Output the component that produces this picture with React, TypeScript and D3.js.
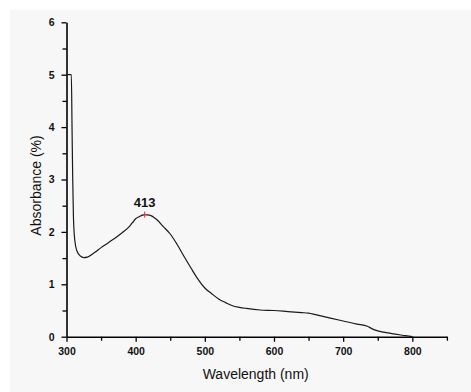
import { useEffect, useRef } from 'react';
import * as d3 from 'd3';

// wavelength (nm) and absorbance (%)
const wavelength = [
  300, 307, 308, 309, 310, 312, 315, 320, 325, 330, 340, 350, 360, 370, 380, 390, 395, 400, 405,
  413, 420, 430, 440, 450, 460, 470, 480, 490, 500, 510, 520, 530, 540, 550, 560, 580, 600,
  620, 640, 650, 660, 680, 700, 720, 735, 742, 750, 770, 790, 800,
];
const absorbance = [
  5, 5, 4.0, 3.0, 2.3, 1.84, 1.64, 1.54, 1.51, 1.52, 1.6, 1.7, 1.79, 1.88, 1.98, 2.09, 2.17, 2.25, 2.29,
  2.33, 2.32, 2.24, 2.1, 1.96, 1.76, 1.53, 1.31, 1.1, 0.93, 0.82, 0.72, 0.65, 0.59, 0.56, 0.54, 0.51, 0.5,
  0.48, 0.46, 0.45, 0.42, 0.36, 0.3, 0.24, 0.2, 0.15, 0.11, 0.06, 0.02, 0,
];
const xTicks = [300, 400, 500, 600, 700, 800];
const yTicks = [0, 1, 2, 3, 4, 5, 6];
const peak = { wl: 413, value: 2.33, label: '413' };

const W = 471;
const H = 392;

const App = () => {
  const svgRef = useRef<SVGSVGElement>(null);

  useEffect(() => {
    const root = d3.select(svgRef.current);
    root.selectAll('*').remove();

    const margin = { left: 66.5, top: 22.3, right: 24.1, bottom: 55.3 };
    const innerW = W - margin.left - margin.right;
    const innerH = H - margin.top - margin.bottom;

    // gray panel
    root.append('rect')
      .attr('x', 10).attr('y', 10)
      .attr('width', W - 10).attr('height', H - 10)
      .attr('fill', '#f7f7f7');

    const x = d3.scaleLinear().domain([300, 850]).range([0, innerW]);
    const y = d3.scaleLinear().domain([0, 6]).range([innerH, 0]);

    const g = root.append('g')
      .attr('transform', `translate(${margin.left},${margin.top})`)
      .style('font-family', 'Arial, "Liberation Sans", sans-serif');

    // minor ticks
    g.append('g')
      .attr('transform', `translate(0,${innerH})`)
      .call(d3.axisBottom(x).tickValues(d3.range(350, 851, 100)).tickSize(4).tickFormat(() => ''))
      .call((a) => a.select('.domain').remove())
      .selectAll('line').attr('stroke', '#000').attr('stroke-width', 1.3);
    g.append('g')
      .call(d3.axisLeft(y).tickValues(d3.range(0.5, 6, 1)).tickSize(4).tickFormat(() => ''))
      .call((a) => a.select('.domain').remove())
      .selectAll('line').attr('stroke', '#000').attr('stroke-width', 1.3);

    // major axes
    const xAxis = g.append('g')
      .attr('transform', `translate(0,${innerH})`)
      .call(d3.axisBottom(x).tickValues(xTicks).tickSize(5).tickSizeOuter(0).tickPadding(6).tickFormat(d3.format('d')));
    const yAxis = g.append('g')
      .call(d3.axisLeft(y).tickValues(yTicks).tickSize(5).tickSizeOuter(0).tickPadding(7).tickFormat(d3.format('d')));

    [xAxis, yAxis].forEach((a) => {
      a.select('.domain').attr('stroke', '#000').attr('stroke-width', 1.6);
      a.selectAll('line').attr('stroke', '#000').attr('stroke-width', 1.3);
      a.selectAll('text')
        .attr('fill', '#111')
        .style('font-size', '10.5px')
        .style('font-weight', 'bold')
        .style('font-family', 'Arial, "Liberation Sans", sans-serif');
    });

    // spectrum
    const pts = wavelength.map((w, i) => [w, absorbance[i]] as [number, number]);
    const line = d3.line<[number, number]>()
      .x((d) => x(d[0]))
      .y((d) => y(d[1]))
      .curve(d3.curveMonotoneX);
    g.append('path')
      .attr('d', line(pts))
      .attr('fill', 'none')
      .attr('stroke', '#1a1a1a')
      .attr('stroke-width', 1.2);

    // peak marker
    const px = x(peak.wl);
    const py = y(peak.value);
    g.append('path')
      .attr('d', `M${px - 3},${py}H${px + 3}M${px},${py - 3}V${py + 3}`)
      .attr('stroke', '#e03030')
      .attr('stroke-width', 1);
    g.append('text')
      .attr('x', px)
      .attr('y', py - 8)
      .attr('text-anchor', 'middle')
      .style('font-size', '13px')
      .style('font-weight', 'bold')
      .attr('fill', '#111')
      .text(peak.label);

    // axis titles
    g.append('text')
      .attr('x', innerW / 2 - 1)
      .attr('y', innerH + 42)
      .attr('text-anchor', 'middle')
      .style('font-size', '14px')
      .attr('fill', '#111')
      .text('Wavelength (nm)');
    g.append('text')
      .attr('transform', `translate(${-26},${innerH / 2 + 6}) rotate(-90)`)
      .attr('text-anchor', 'middle')
      .style('font-size', '14px')
      .attr('fill', '#111')
      .text('Absorbance (%)');
  }, []);

  return (
    <div style={{ position: 'fixed', left: 0, top: 0 }}>
      <svg ref={svgRef} width={W} height={H} style={{ display: 'block', background: '#fff' }} />
    </div>
  );
};

export default App;
